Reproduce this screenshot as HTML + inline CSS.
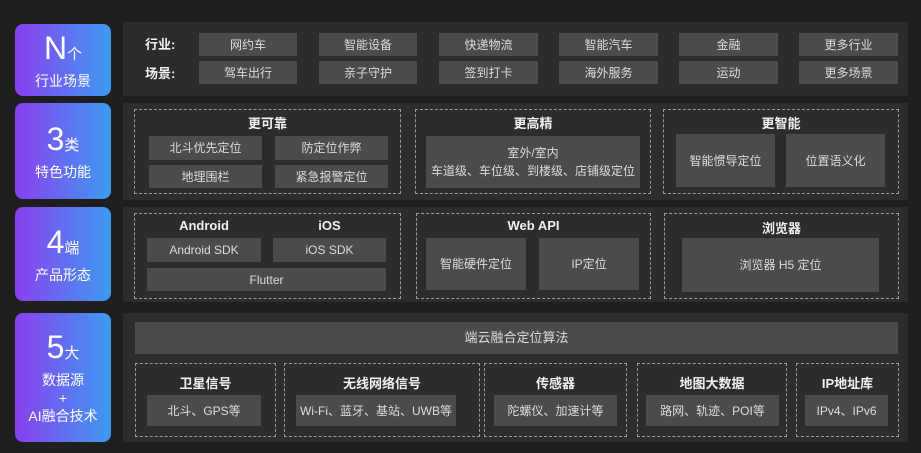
<!DOCTYPE html>
<html><head><meta charset="utf-8"><style>
*{margin:0;padding:0;box-sizing:border-box}
body{width:921px;height:453px;background:#1f1f1f;position:relative;overflow:hidden;font-family:"Liberation Sans","Noto Sans CJK SC",sans-serif;color:#e8e8e8}
.a{position:absolute}
.l{position:absolute;left:15px;width:96px;border-radius:8px;background:linear-gradient(90deg,#8a3ff0,#3d9bf0);color:#fff;text-align:center;display:flex;flex-direction:column;justify-content:center;align-items:center}
.big{font-size:32px;line-height:34px}.big small{font-size:15px}
.sub{font-size:14px;line-height:18px}
.p{position:absolute;left:123px;width:785px;background:#2c2c2c}
.b{position:absolute;background:#4b4b4b;color:#ddd;font-size:12px;display:flex;align-items:center;justify-content:center;text-align:center;line-height:18px}
.d{position:absolute;border:1.3px dashed #9a9a9a}
.t{position:absolute;font-size:13px;font-weight:bold;color:#f0f0f0;text-align:center}
</style></head><body>
<div class="l" style="top:24px;height:72px"><div class="big">N<small>个</small></div><div class="sub">行业场景</div></div>
<div class="l" style="top:103px;height:96px"><div class="big">3<small>类</small></div><div class="sub">特色功能</div></div>
<div class="l" style="top:207px;height:94px"><div class="big">4<small>端</small></div><div class="sub">产品形态</div></div>
<div class="l" style="top:313px;height:129px"><div class="big">5<small>大</small></div><div class="sub">数据源<br>+<br>AI融合技术</div></div>

<div class="p" style="top:22px;height:74px"></div>
<div class="t" style="left:145px;top:34px">行业:</div>
<div class="t" style="left:145px;top:63px">场景:</div>
<div class="b" style="left:199px;top:33px;width:98px;height:23px">网约车</div>
<div class="b" style="left:319px;top:33px;width:98px;height:23px">智能设备</div>
<div class="b" style="left:439px;top:33px;width:99px;height:23px">快递物流</div>
<div class="b" style="left:559px;top:33px;width:99px;height:23px">智能汽车</div>
<div class="b" style="left:679px;top:33px;width:99px;height:23px">金融</div>
<div class="b" style="left:799px;top:33px;width:99px;height:23px">更多行业</div>
<div class="b" style="left:199px;top:61px;width:98px;height:23px">驾车出行</div>
<div class="b" style="left:319px;top:61px;width:98px;height:23px">亲子守护</div>
<div class="b" style="left:439px;top:61px;width:99px;height:23px">签到打卡</div>
<div class="b" style="left:559px;top:61px;width:99px;height:23px">海外服务</div>
<div class="b" style="left:679px;top:61px;width:99px;height:23px">运动</div>
<div class="b" style="left:799px;top:61px;width:99px;height:23px">更多场景</div>

<div class="p" style="top:103px;height:97px"></div>
<div class="d" style="left:134px;top:109px;width:267px;height:85px"></div>
<div class="d" style="left:415px;top:109px;width:236px;height:85px"></div>
<div class="d" style="left:663px;top:109px;width:236px;height:85px"></div>
<div class="t" style="left:134px;top:113px;width:267px">更可靠</div>
<div class="t" style="left:415px;top:113px;width:236px">更高精</div>
<div class="t" style="left:663px;top:113px;width:236px">更智能</div>
<div class="b" style="left:149px;top:136px;width:113px;height:24px">北斗优先定位</div>
<div class="b" style="left:275px;top:136px;width:113px;height:24px">防定位作弊</div>
<div class="b" style="left:149px;top:165px;width:113px;height:23px">地理围栏</div>
<div class="b" style="left:275px;top:165px;width:113px;height:23px">紧急报警定位</div>
<div class="b" style="left:426px;top:136px;width:214px;height:52px">室外/室内<br>车道级、车位级、到楼级、店铺级定位</div>
<div class="b" style="left:676px;top:134px;width:99px;height:53px">智能惯导定位</div>
<div class="b" style="left:786px;top:134px;width:99px;height:53px">位置语义化</div>

<div class="p" style="top:207px;height:95px"></div>
<div class="d" style="left:134px;top:213px;width:267px;height:86px"></div>
<div class="d" style="left:416px;top:213px;width:235px;height:86px"></div>
<div class="d" style="left:664px;top:213px;width:235px;height:86px"></div>
<div class="t" style="left:147px;top:218px;width:114px">Android</div>
<div class="t" style="left:273px;top:218px;width:113px">iOS</div>
<div class="t" style="left:416px;top:218px;width:235px">Web API</div>
<div class="t" style="left:664px;top:218px;width:235px">浏览器</div>
<div class="b" style="left:147px;top:238px;width:114px;height:24px">Android SDK</div>
<div class="b" style="left:273px;top:238px;width:113px;height:24px">iOS SDK</div>
<div class="b" style="left:147px;top:268px;width:239px;height:23px">Flutter</div>
<div class="b" style="left:426px;top:238px;width:100px;height:52px">智能硬件定位</div>
<div class="b" style="left:539px;top:238px;width:100px;height:52px">IP定位</div>
<div class="b" style="left:682px;top:238px;width:197px;height:54px">浏览器 H5 定位</div>

<div class="p" style="top:313px;height:129px"></div>
<div class="b" style="left:135px;top:322px;width:763px;height:32px;font-size:13px">端云融合定位算法</div>
<div class="d" style="left:135px;top:363px;width:141px;height:74px"></div>
<div class="d" style="left:284px;top:363px;width:196px;height:74px"></div>
<div class="d" style="left:484px;top:363px;width:143px;height:74px"></div>
<div class="d" style="left:637px;top:363px;width:150px;height:74px"></div>
<div class="d" style="left:796px;top:363px;width:103px;height:74px"></div>
<div class="t" style="left:135px;top:373px;width:141px">卫星信号</div>
<div class="t" style="left:284px;top:373px;width:196px">无线网络信号</div>
<div class="t" style="left:484px;top:373px;width:143px">传感器</div>
<div class="t" style="left:637px;top:373px;width:150px">地图大数据</div>
<div class="t" style="left:796px;top:373px;width:103px">IP地址库</div>
<div class="b" style="left:147px;top:395px;width:114px;height:31px">北斗、GPS等</div>
<div class="b" style="left:296px;top:395px;width:160px;height:31px">Wi-Fi、蓝牙、基站、UWB等</div>
<div class="b" style="left:494px;top:395px;width:123px;height:31px">陀螺仪、加速计等</div>
<div class="b" style="left:646px;top:395px;width:133px;height:31px">路网、轨迹、POI等</div>
<div class="b" style="left:805px;top:395px;width:83px;height:31px">IPv4、IPv6</div>
</body></html>
